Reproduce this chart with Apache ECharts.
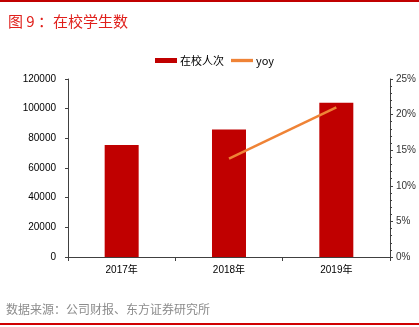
<!DOCTYPE html>
<html><head><meta charset="utf-8">
<script src="https://cdn.jsdelivr.net/npm/echarts@6/dist/echarts.min.js"></script>
<style>html,body{margin:0;padding:0;background:#fff}#c{width:419px;height:327px}</style>
</head><body><div id="c"></div>
<script>
const categories = ['2017年', '2018年', '2019年'];
const students = [75500, 86000, 104000];
const yoy = [null, 13.8, 21.0];
const leftTicks = [0, 120000, 20000];
const rightTicks = [0, 25, 5];

const chart = echarts.init(document.getElementById('c'));
const font = '"Liberation Sans", Arial, "Noto Sans CJK SC", sans-serif';
chart.setOption({
  animation: false,
  textStyle: { fontFamily: font },
  title: {
    text: '图 9 ：在校学生数', left: 3, top: 9,
    textStyle: { color: '#e0201c', fontSize: 15, fontWeight: 'normal', fontFamily: '"Noto Sans CJK SC", sans-serif' }
  },
  graphic: [
    { type: 'rect', shape: { x: 0, y: 0, width: 419, height: 2 }, style: { fill: '#c00000' } },
    { type: 'rect', shape: { x: 0, y: 323, width: 419, height: 2 }, style: { fill: '#d00000' } },
    { type: 'text', left: 6, top: 303, style: { text: '数据来源：公司财报、东方证券研究所', fill: '#8c8c8c', fontSize: 12, fontFamily: '"Noto Sans CJK SC", sans-serif' } }
  ],
  legend: {
    top: 50, left: 150, itemGap: 7, itemWidth: 22, itemHeight: 5,
    textStyle: { fontSize: 11, color: '#000', fontFamily: '"Noto Sans CJK SC", sans-serif', padding: [0, 0, 0, -2] },
    data: [
      { name: '在校人次', icon: 'rect' },
      { name: 'yoy', icon: 'path://M0,0L20,0L20,3L0,3Z', itemStyle: { color: '#ef8336' } }
    ]
  },
  grid: { left: 68, right: 29, top: 79, bottom: 70 },
  xAxis: {
    type: 'category', data: categories,
    axisLine: { lineStyle: { color: '#404040' } },
    axisTick: { show: true, length: 4, lineStyle: { color: '#404040' } },
    axisLabel: { color: '#000', fontSize: 10, margin: 8 }
  },
  yAxis: [
    {
      type: 'value', min: leftTicks[0], max: leftTicks[1], interval: leftTicks[2],
      axisLine: { show: true, lineStyle: { color: '#404040' } },
      axisTick: { show: true, length: 3, lineStyle: { color: '#404040' } },
      splitLine: { show: false },
      axisLabel: { color: '#000', fontSize: 10, margin: 12, formatter: v => String(v) }
    },
    {
      type: 'value', min: rightTicks[0], max: rightTicks[1], interval: rightTicks[2],
      position: 'right',
      axisLine: { show: true, lineStyle: { color: '#404040' } },
      axisTick: { show: true, length: 3, lineStyle: { color: '#404040' } },
      minorTick: { show: true, splitNumber: 5, length: 2, lineStyle: { color: '#404040' } },
      splitLine: { show: false },
      axisLabel: { color: '#333', fontSize: 10, margin: 6, formatter: '{value}%' }
    }
  ],
  series: [
    { name: '在校人次', type: 'bar', data: students, barWidth: 34, itemStyle: { color: '#c00000' } },
    { name: 'yoy', type: 'line', yAxisIndex: 1, data: yoy, showSymbol: false, symbol: 'none',
      lineStyle: { color: '#ef8336', width: 2.5 }, itemStyle: { color: '#ef8336' } }
  ]
});
</script></body></html>
